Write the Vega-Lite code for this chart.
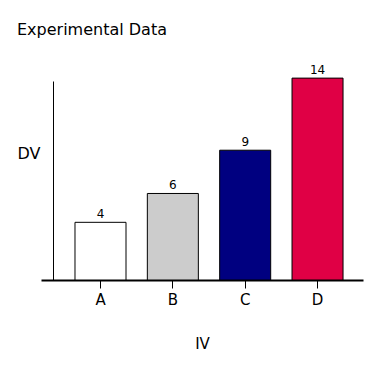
{
  "$schema": "https://vega.github.io/schema/vega-lite/v6.json",
  "width": 322,
  "height": 199,
  "autosize": {"type": "none"},
  "padding": {"left": 41, "top": 81, "right": 29, "bottom": 87},
  "background": "white",
  "config": {"view": {"stroke": null}, "font": "DejaVu Sans"},
  "title": {"text": "Experimental Data", "anchor": "start", "frame": "group", "dx": -24, "offset": 10, "fontSize": 16, "fontWeight": "normal", "color": "black", "font": "DejaVu Sans", "baseline": "bottom"},
  "data": {"values": [
    {"IV": "A", "DV": 4, "color": "#ffffff"},
    {"IV": "B", "DV": 6, "color": "#cccccc"},
    {"IV": "C", "DV": 9, "color": "#000080"},
    {"IV": "D", "DV": 14, "color": "#e00045"}
  ]},
  "encoding": {
    "x": {"field": "IV", "type": "nominal", "sort": null,
      "scale": {"paddingInner": 0.295, "paddingOuter": 0.373, "align": 0.63},
      "axis": {"title": "IV", "labelAngle": 0, "domainColor": "black", "domainWidth": 2, "tickColor": "black", "tickSize": 8, "tickWidth": 1, "labelFontSize": 15, "labelColor": "black", "labelPadding": 4, "titleFontSize": 15, "titleFontWeight": "normal", "titleColor": "black", "titleY": 63, "titleBaseline": "middle"}},
    "y": {"field": "DV", "type": "quantitative",
      "scale": {"domain": [0, 13.8], "nice": false, "zero": true},
      "axis": {"title": "DV", "offset": -12, "ticks": false, "labels": false, "grid": false, "domainColor": "black", "domainWidth": 1, "titleAngle": 0, "titleFontSize": 16, "titleFontWeight": "normal", "titleColor": "black", "titleAlign": "left", "titleBaseline": "middle", "titleX": -36, "titleY": 72}}
  },
  "layer": [
    {"mark": {"type": "bar", "stroke": "black", "strokeWidth": 1, "clip": false},
     "encoding": {"fill": {"field": "color", "type": "nominal", "scale": null}}},
    {"mark": {"type": "text", "baseline": "bottom", "dy": -1, "fontSize": 12, "color": "black"},
     "encoding": {"text": {"field": "DV", "type": "quantitative"}}}
  ]
}
